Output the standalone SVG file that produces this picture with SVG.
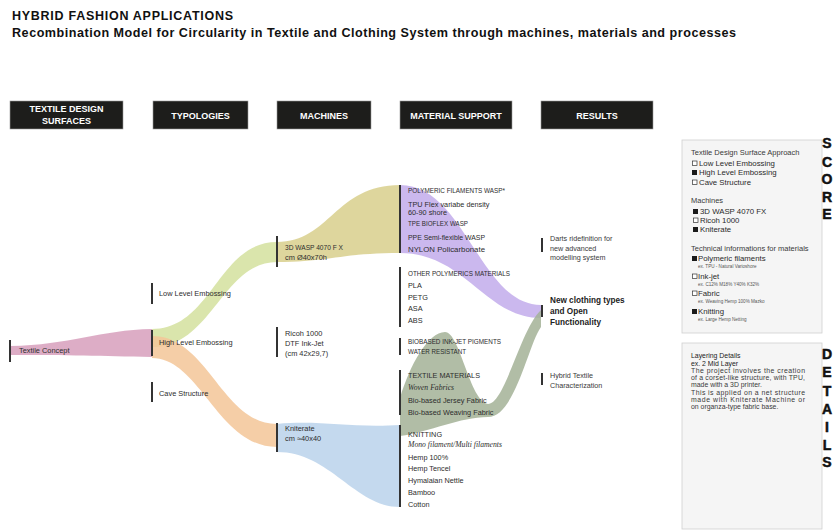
<svg xmlns="http://www.w3.org/2000/svg" width="833" height="531" viewBox="0 0 833 531">
  <style>
    text { font-family: "Liberation Sans", Arial, sans-serif; fill: #2d2d2d; }
    .title { font-size: 12.5px; font-weight: bold; fill: #111; }
    .sub { font-size: 12.6px; font-weight: bold; fill: #111; }
    .hd { fill: #1d1d1b; stroke: #9a9a9a; stroke-width: 0.6; }
    .hdt { font-size: 9px; font-weight: bold; fill: #fff; text-anchor: middle; }
    .bar { fill: #333; }
    .lbl { font-size: 7.4px; }
    .mat { font-size: 7.3px; }
    .it { font-family: "Liberation Serif", "Times New Roman", serif; font-style: italic; font-size: 7.7px; }
    .res { font-size: 7.2px; fill: #3a3a3a; }
    .resb { font-size: 8.2px; font-weight: bold; fill: #222; }
    .panel { fill: #f5f5f5; stroke: #cfcfcf; stroke-width: 0.8; }
    .ph { font-size: 7.5px; fill: #3a3a3a; }
    .pi { font-size: 7.8px; fill: #2a2a2a; }
    .ex { font-size: 4.6px; fill: #555; }
    .pt { font-size: 6.9px; fill: #3a3a3a; }
    .ptd { font-size: 6.9px; fill: #222; }
    .side { font-size: 14px; font-weight: bold; fill: #111; stroke: #111; stroke-width: 0.5; text-anchor: middle; }
    .on { fill: #1a1a1a; }
    .off { fill: #fff; stroke: #333; stroke-width: 0.7; }
  </style>

  <!-- heading -->
  <text class="title" x="12" y="19.5" textLength="221">HYBRID FASHION APPLICATIONS</text>
  <text class="sub" x="12" y="36.5" textLength="724">Recombination Model for Circularity in Textile and Clothing System through machines, materials and processes</text>

  <!-- column headers -->
  <g id="headers">
    <rect class="hd" x="10" y="101" width="113" height="28"/>
    <text class="hdt" x="66.5" y="111.5">TEXTILE DESIGN</text>
    <text class="hdt" x="66.5" y="124">SURFACES</text>
    <rect class="hd" x="153" y="101" width="95" height="28"/>
    <text class="hdt" x="200.5" y="118.5">TYPOLOGIES</text>
    <rect class="hd" x="277" y="101" width="94" height="28"/>
    <text class="hdt" x="324" y="118.5">MACHINES</text>
    <rect class="hd" x="400" y="101" width="112" height="28"/>
    <text class="hdt" x="456" y="118.5">MATERIAL SUPPORT</text>
    <rect class="hd" x="541" y="101" width="112" height="28"/>
    <text class="hdt" x="597" y="118.5">RESULTS</text>
  </g>

  <!-- flows -->
  <g id="connectors" fill-opacity="0.85">
    <path id="flow-concept-high" fill="#d79fbc" d="M10,346 C70,345 100,330 152,329 L152,357 C100,356 70,355 10,355 Z"/>
    <path id="flow-high-wasp" fill="#d3e09d" d="M152,329 C212,329 218,242 277,242 L277,262 C222,262 212,347 152,347 Z"/>
    <path id="flow-high-kniterate" fill="#f3c598" d="M152,336 C208,336 222,424 277,424 L277,447 C218,447 200,358 152,358 Z"/>
    <path id="flow-wasp-polymeric" fill="#d8cf8c" d="M277,242 C330,242 335,185 400,185 L400,253 C340,253 330,262 277,262 Z"/>
    <path id="flow-kniterate-knitting" fill="#bad2eb" d="M277,424 C320,420 350,428 400,425 L400,507 C355,507 330,452 277,452 Z"/>
    <path id="flow-polymeric-new" fill="#c2aceb" d="M400,185 C465,185 480,305 541,305 L541,318 C485,318 465,253 400,253 Z"/>
    <path id="flow-textile-new" fill="#a3b196" d="M400,398 C410,365 428,332 445,332 C460,332 470,402 488,404 C505,404 520,330 541,310 L541,327 C528,345 515,417 488,417 C460,417 430,432 400,436 Z"/>
  </g>

  <!-- design surface -->
  <g id="node-textile-concept">
    <rect class="bar" x="9" y="340" width="2" height="22"/>
    <text class="lbl" x="19" y="353">Textile Concept</text>
  </g>

  <!-- typologies -->
  <g id="node-low-level">
    <rect class="bar" x="151" y="283" width="2" height="21"/>
    <text class="lbl" x="159" y="295.5">Low Level Embossing</text>
  </g>
  <g id="node-high-level">
    <rect class="bar" x="151" y="330" width="2" height="26"/>
    <text class="lbl" x="159" y="345">High Level Embossing</text>
  </g>
  <g id="node-cave">
    <rect class="bar" x="151" y="382" width="2" height="20"/>
    <text class="lbl" x="159" y="396">Cave Structure</text>
  </g>

  <!-- machines -->
  <g id="node-wasp">
    <rect class="bar" x="276" y="236" width="2" height="31"/>
    <text class="lbl" x="285" y="250" textLength="58" lengthAdjust="spacingAndGlyphs">3D WASP 4070 F X</text>
    <text class="lbl" x="285" y="260">cm  Ø40x70h</text>
  </g>
  <g id="node-ricoh">
    <rect class="bar" x="276" y="327" width="2" height="30"/>
    <text class="lbl" x="285" y="335.5">Ricoh 1000</text>
    <text class="lbl" x="285" y="345.5">DTF  Ink-Jet</text>
    <text class="lbl" x="285" y="355.5">(cm 42x29,7)</text>
  </g>
  <g id="node-kniterate">
    <rect class="bar" x="276" y="423" width="2" height="29"/>
    <text class="lbl" x="285" y="430.5">Kniterate</text>
    <text class="lbl" x="285" y="441">cm ≈40x40</text>
  </g>

  <!-- material support -->
  <g id="node-polymeric">
    <rect class="bar" x="399" y="185" width="2" height="68"/>
    <text class="mat" x="408" y="193" textLength="97" lengthAdjust="spacingAndGlyphs">POLYMERIC FILAMENTS WASP*</text>
    <text class="mat" x="408" y="207">TPU Flex variabe density</text>
    <text class="mat" x="408" y="215">60-90 shore</text>
    <text class="mat" x="408" y="226" textLength="60" lengthAdjust="spacingAndGlyphs">TPE BIOFLEX WASP</text>
    <text class="mat" x="408" y="240" textLength="77" lengthAdjust="spacingAndGlyphs">PPE  Semi-flexible WASP</text>
    <text class="mat" x="408" y="252" textLength="77" lengthAdjust="spacingAndGlyphs">NYLON Policarbonate</text>
  </g>
  <g id="node-other-polymerics">
    <rect class="bar" x="399" y="267" width="2" height="60"/>
    <text class="mat" x="408" y="276" textLength="102" lengthAdjust="spacingAndGlyphs">OTHER POLYMERICS MATERIALS</text>
    <text class="mat" x="408" y="288">PLA</text>
    <text class="mat" x="408" y="300">PETG</text>
    <text class="mat" x="408" y="311">ASA</text>
    <text class="mat" x="408" y="323">ABS</text>
  </g>
  <g id="node-biobased">
    <rect class="bar" x="399" y="338" width="2" height="17"/>
    <text class="mat" x="408" y="344" textLength="93" lengthAdjust="spacingAndGlyphs">BIOBASED INK-JET PIGMENTS</text>
    <text class="mat" x="408" y="354" textLength="58" lengthAdjust="spacingAndGlyphs">WATER RESISTANT</text>
  </g>
  <g id="node-textile-materials">
    <rect class="bar" x="399" y="370" width="2" height="45"/>
    <text class="mat" x="408" y="378" textLength="72" lengthAdjust="spacingAndGlyphs">TEXTILE MATERIALS</text>
    <text class="it" x="408" y="390">Woven Fabrics</text>
    <text class="mat" x="408" y="403">Bio-based Jersey Fabric</text>
    <text class="mat" x="408" y="415">Bio-based Weaving Fabric</text>
  </g>
  <g id="node-knitting">
    <rect class="bar" x="399" y="425" width="2" height="82"/>
    <text class="mat" x="408" y="437">KNITTING</text>
    <text class="it" x="408" y="447">Mono filament/Multi filaments</text>
    <text class="mat" x="408" y="460">Hemp 100%</text>
    <text class="mat" x="408" y="471">Hemp Tencel</text>
    <text class="mat" x="408" y="483">Hymalaian Nettle</text>
    <text class="mat" x="408" y="495">Bamboo</text>
    <text class="mat" x="408" y="507">Cotton</text>
  </g>

  <!-- results -->
  <g id="node-darts">
    <rect class="bar" x="541" y="238" width="2" height="14"/>
    <text class="res" x="550" y="241">Darts ridefinition for</text>
    <text class="res" x="550" y="250.5">new advanced</text>
    <text class="res" x="550" y="260">modelling  system</text>
  </g>
  <g id="node-new-clothing">
    <rect class="bar" x="541" y="305" width="2" height="12"/>
    <text class="resb" x="550" y="303">New clothing types</text>
    <text class="resb" x="550" y="314">and Open</text>
    <text class="resb" x="550" y="325">Functionality</text>
  </g>
  <g id="node-hybrid-textile">
    <rect class="bar" x="541" y="373" width="2" height="12"/>
    <text class="res" x="550" y="378">Hybrid Textile</text>
    <text class="res" x="550" y="388">Characterization</text>
  </g>

  <!-- score panel -->
  <g id="score-panel">
    <rect class="panel" x="682" y="140" width="140" height="193"/>
    <text class="ph" x="691" y="154.5">Textile Design Surface Approach</text>
    <rect class="off" x="692.5" y="161" width="4.5" height="4.5"/>
    <text class="pi" x="699" y="166">Low Level Embossing</text>
    <rect class="on" x="692" y="170" width="5" height="5"/>
    <text class="pi" x="699" y="175">High Level Embossing</text>
    <rect class="off" x="692.5" y="180" width="4.5" height="4.5"/>
    <text class="pi" x="699" y="185">Cave Structure</text>

    <text class="ph" x="691" y="203">Machines</text>
    <rect class="on" x="693" y="209" width="5" height="5"/>
    <text class="pi" x="700" y="214">3D WASP 4070 FX</text>
    <rect class="off" x="693.5" y="218" width="4.5" height="4.5"/>
    <text class="pi" x="700" y="223">Ricoh 1000</text>
    <rect class="on" x="693" y="227" width="5" height="5"/>
    <text class="pi" x="700" y="232">Kniterate</text>

    <text class="ph" x="691" y="250.5">Technical informations for materials</text>
    <rect class="on" x="692" y="256" width="5" height="5"/>
    <text class="pi" x="698" y="261">Polymeric filaments</text>
    <text class="ex" x="698" y="268">ex. TPU - Natural Varioshore</text>
    <rect class="off" x="692.5" y="274" width="4.5" height="4.5"/>
    <text class="pi" x="698" y="279">Ink-jet</text>
    <text class="ex" x="698" y="286">ex. C12% M18% Y40% K32%</text>
    <rect class="off" x="692.5" y="291" width="4.5" height="4.5"/>
    <text class="pi" x="698" y="296">Fabric</text>
    <text class="ex" x="698" y="303">ex. Weaving Hemp 100% Mazko</text>
    <rect class="on" x="692" y="309" width="5" height="5"/>
    <text class="pi" x="698" y="314">Knitting</text>
    <text class="ex" x="698" y="321">ex. Large Hemp Netting</text>

    <text class="side" x="827" y="148">S</text>
    <text class="side" x="827" y="166.5">C</text>
    <text class="side" x="827" y="184">O</text>
    <text class="side" x="827" y="201.5">R</text>
    <text class="side" x="827" y="219">E</text>
  </g>

  <!-- details panel -->
  <g id="details-panel">
    <rect class="panel" x="682" y="343" width="140" height="186"/>
    <text class="ptd" x="691" y="357.5">Layering Details</text>
    <text class="ptd" x="691" y="365.5">ex. 2 Mid Layer</text>
    <text class="pt" x="691" y="373" textLength="114">The project involves the creation</text>
    <text class="pt" x="691" y="380.2" textLength="114">of a corset-like structure, with TPU,</text>
    <text class="pt" x="691" y="387.4">made with a 3D printer.</text>
    <text class="pt" x="691" y="394.6" textLength="114">This is applied on a net structure</text>
    <text class="pt" x="691" y="401.8" textLength="114">made with Kniterate Machine or</text>
    <text class="pt" x="691" y="409">on organza-type fabric base.</text>

    <text class="side" x="827" y="359">D</text>
    <text class="side" x="827" y="377">E</text>
    <text class="side" x="827" y="395.5">T</text>
    <text class="side" x="827" y="413.5">A</text>
    <text class="side" x="827" y="431.5">I</text>
    <text class="side" x="827" y="449.5">L</text>
    <text class="side" x="827" y="467">S</text>
  </g>
</svg>
